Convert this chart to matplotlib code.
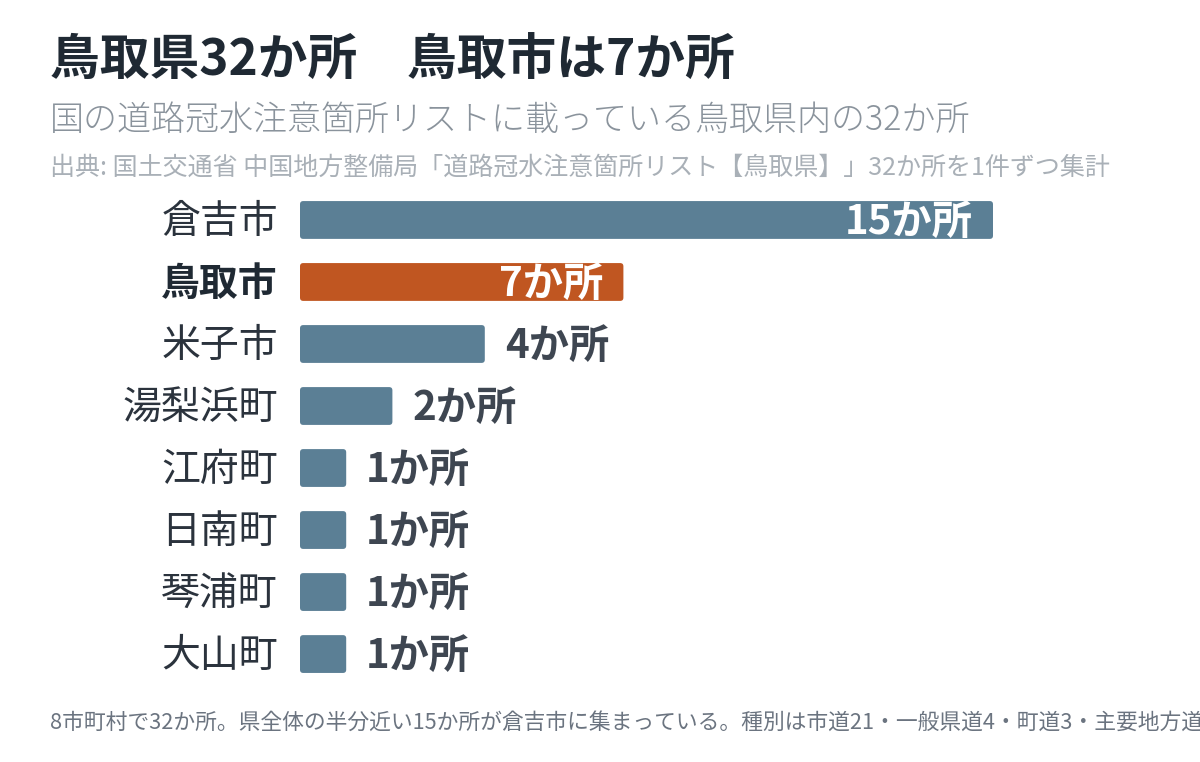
import matplotlib.pyplot as plt
from matplotlib.patches import FancyBboxPatch

plt.rcParams["font.family"] = ["Noto Sans CJK JP", "DejaVu Sans"]

# 市町村ごとの箇所数
cities = ["倉吉市", "鳥取市", "米子市", "湯梨浜町", "江府町", "日南町", "琴浦町", "大山町"]
counts = [15, 7, 4, 2, 1, 1, 1, 1]
highlight = "鳥取市"

title = "鳥取県32か所　鳥取市は7か所"
subtitle = "国の道路冠水注意箇所リストに載っている鳥取県内の32か所"
source = "出典: 国土交通省 中国地方整備局「道路冠水注意箇所リスト【鳥取県】」32か所を1件ずつ集計"
footer = ("8市町村で32か所。県全体の半分近い15か所が倉吉市に集まっている。"
          "種別は市道21・一般県道4・町道3・主要地方道4。")

BLUE = "#5b7f95"
ORANGE = "#c05621"
DARK = "#1f2933"
LABEL = "#3e4651"

fig = plt.figure(figsize=(12, 7.62), dpi=100)
ax = fig.add_axes([0.25, 0.101, 0.7315, 0.651])
ax.set_xlim(0, 19)
ax.set_ylim(7.5, -0.5)
ax.axis("off")

bar_h = 0.61
px_x = 1200 * 0.7315 / 19
px_y = 762 * 0.651 / 8
dy = 2 / px_y  # 文字を少し下げる
for i, (city, n) in enumerate(zip(cities, counts)):
    color = ORANGE if city == highlight else BLUE
    box = FancyBboxPatch((0, i - bar_h / 2), n, bar_h,
                         boxstyle="round,pad=0,rounding_size=0.07",
                         mutation_aspect=px_x / px_y,
                         facecolor=color, edgecolor="none")
    ax.add_patch(box)
    ax.text(-22 / px_x, i + dy, city, ha="right", va="center", fontsize=28,
            color=DARK if city == highlight else "#2b333d",
            fontweight="bold" if city == highlight else "normal")
    label = f"{n}か所"
    if n / max(counts) > 0.4:
        ax.text(n - 20 / px_x, i + dy, label, ha="right", va="center",
                fontsize=29, fontweight="bold", color="white")
    else:
        ax.text(n + 20 / px_x, i + dy, label, ha="left", va="center",
                fontsize=29, fontweight="bold", color=LABEL)

fig.text(50 / 1200, 1 - 61 / 762, title, ha="left", va="center",
         fontsize=35.8, fontweight="bold", color=DARK)
fig.text(50 / 1200, 1 - 120 / 762, subtitle, ha="left", va="center",
         fontsize=24.5, fontweight="light", color="#8a939c")
fig.text(50 / 1200, 1 - 168 / 762, source, ha="left", va="center",
         fontsize=18, color="#a9b0b7")
fig.text(50 / 1200, 1 - 723 / 762, footer, ha="left", va="center",
         fontsize=15.7, color="#6b7480")

fig.savefig("out.png", dpi=100, facecolor="white")
